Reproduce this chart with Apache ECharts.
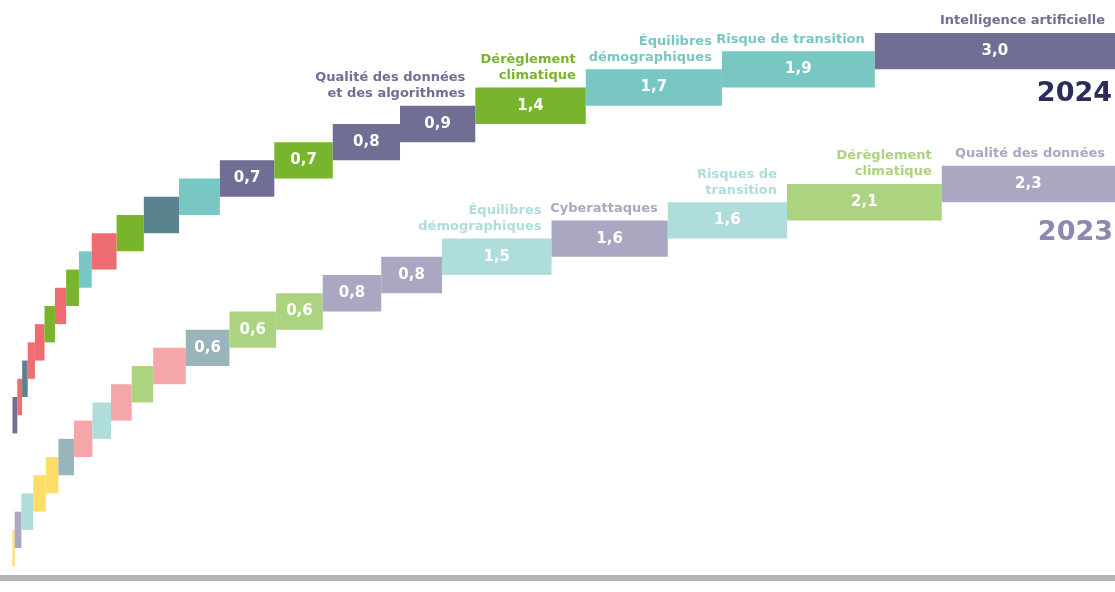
<!DOCTYPE html>
<html>
<head>
<meta charset="utf-8">
<script src="https://cdn.jsdelivr.net/npm/echarts@6/dist/echarts.min.js"></script>
<style>
  html, body { margin: 0; padding: 0; background: #fff; }
  #chart { width: 1115px; height: 592px; }
</style>
</head>
<body>
<div id="chart"></div>
<script>
const valeurs2024 = [0.06, 0.06, 0.07, 0.09, 0.12, 0.13, 0.14, 0.16, 0.16, 0.31, 0.34, 0.44, 0.51,
  0.68, 0.73, 0.84, 0.94, 1.38, 1.70, 1.91, 3.00]
const couleurs2024 = ['violet', 'rouge', 'bleu', 'rouge', 'rouge', 'vert', 'rouge', 'vert', 'turquoise', 'rouge', 'vert', 'bleu', 'turquoise',
  'violet', 'vert', 'violet', 'violet', 'vert', 'turquoise', 'turquoise', 'violet']
const noms2024 = ['', '', '', '', '', '', '', '', '', '', '', '', '',
  '', '', '', 'Qualité des données\net des algorithmes', 'Dérèglement\nclimatique', 'Équilibres\ndémographiques', 'Risque de transition', 'Intelligence artificielle']

// 2023, de gauche à droite
const valeurs2023 = [0.03, 0.09, 0.16, 0.17, 0.17, 0.21, 0.25, 0.25, 0.28, 0.29, 0.44,
  0.59, 0.63, 0.63, 0.79, 0.82, 1.48, 1.57, 1.61, 2.09, 2.34]
const couleurs2023 = ['jaune', 'violet', 'turquoise', 'jaune', 'jaune', 'bleu', 'rouge', 'turquoise', 'rouge', 'vert', 'rouge',
  'bleu', 'vert', 'vert', 'violet', 'violet', 'turquoise', 'violet', 'turquoise', 'vert', 'violet']
const noms2023 = ['', '', '', '', '', '', '', '', '', '', '',
  '', '', '', '', '', 'Équilibres\ndémographiques', 'Cyberattaques', 'Risques de\ntransition', 'Dérèglement\nclimatique', 'Qualité des données']

const annees = ['2024', '2023']

const palette2024 = { violet: '#716e95', vert: '#78b52c', turquoise: '#79c7c2', bleu: '#5a8390', rouge: '#ef6c71', jaune: '#fdd94f' }
const palette2023 = { violet: '#a9a7c1', vert: '#acd37f', turquoise: '#afdddb', bleu: '#9ab4bb', rouge: '#f4a6a9', jaune: '#fddf67' }

// chaque marche monte d'un cran, un bloc fait deux crans de haut
const decalage2024 = 7.3

function construire (valeurs, decalage) {
  let cumul = 0
  return valeurs.map(function (v, i) {
    const d = [cumul, cumul + v, i + decalage, v]
    cumul += v
    return d
  })
}

function somme (arr) {
  return arr.reduce(function (a, b) { return a + b }, 0)
}

function dessin (couleurs, palette, noms) {
  return function (params, api) {
    const i = params.dataIndex
    const a = api.coord([api.value(0), api.value(2)])
    const b = api.coord([api.value(1), api.value(2) + 2])
    const v = api.value(3)
    const fill = palette[couleurs[i]]
    const children = [{
      type: 'rect',
      shape: { x: a[0], y: b[1], width: b[0] - a[0], height: a[1] - b[1] },
      style: { fill: fill }
    }]
    if (v >= 0.55) {
      children.push({
        type: 'text',
        style: {
          text: v.toFixed(1).replace('.', ','),
          x: (a[0] + b[0]) / 2,
          y: (a[1] + b[1]) / 2,
          align: 'center',
          verticalAlign: 'middle',
          fill: '#fff',
          fontSize: 15,
          fontWeight: 'bold',
          fontFamily: 'DejaVu Sans'
        }
      })
    }
    if (noms[i]) {
      children.push({
        type: 'text',
        style: {
          text: noms[i],
          x: b[0] - 10,
          y: b[1] - 4,
          align: 'right',
          verticalAlign: 'bottom',
          fill: fill,
          fontSize: 13,
          fontWeight: 'bold',
          fontFamily: 'DejaVu Sans',
          lineHeight: 16
        }
      })
    }
    return { type: 'group', children: children }
  }
}

let mycharts = echarts.init(document.getElementById('chart'))
mycharts.setOption({
  animation: false,
  grid: { left: 12.5, right: 0, top: 2, bottom: 13 },
  xAxis: [
    { type: 'value', min: 0, max: somme(valeurs2024), show: false },
    { type: 'value', min: 0, max: somme(valeurs2023), show: false }
  ],
  yAxis: { type: 'value', min: -0.7, max: 31, show: false },
  graphic: [
    {
      type: 'text', right: 3, top: 80,
      style: { text: annees[0], fill: '#2b2b5e', fontSize: 27, fontWeight: 'bold', fontFamily: 'DejaVu Sans' }
    },
    {
      type: 'text', right: 2, top: 219,
      style: { text: annees[1], fill: '#8b89ad', fontSize: 27, fontWeight: 'bold', fontFamily: 'DejaVu Sans' }
    },
    {
      // ligne de base grise
      type: 'rect', left: 0, top: 575,
      shape: { width: 1115, height: 6 },
      style: { fill: '#b4b4b4' }
    }
  ],
  series: [
    {
      name: annees[0],
      type: 'custom',
      xAxisIndex: 0,
      renderItem: dessin(couleurs2024, palette2024, noms2024),
      encode: { x: [0, 1], y: 2 },
      clip: false,
      silent: true,
      data: construire(valeurs2024, decalage2024)
    },
    {
      name: annees[1],
      type: 'custom',
      xAxisIndex: 1,
      renderItem: dessin(couleurs2023, palette2023, noms2023),
      encode: { x: [0, 1], y: 2 },
      clip: false,
      silent: true,
      data: construire(valeurs2023, 0)
    }
  ]
})
</script>
</body>
</html>
